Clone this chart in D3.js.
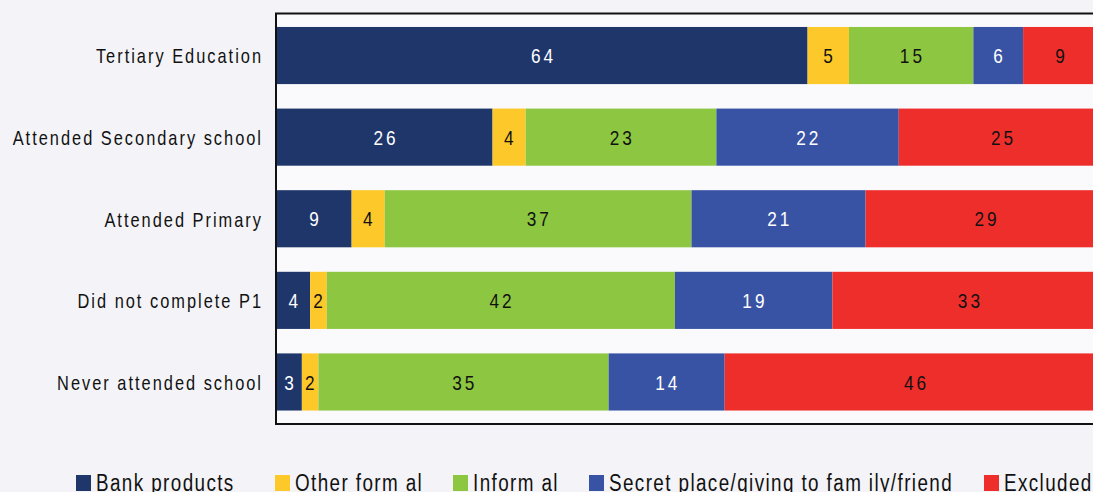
<!DOCTYPE html>
<html>
<head>
<meta charset="utf-8">
<script src="https://cdn.jsdelivr.net/npm/d3@7"></script>
<style>
  html, body { margin: 0; padding: 0; background: #f4f4f8; overflow: hidden; }
  svg { display: block; }
  text { font-family: "Liberation Sans", Arial, sans-serif; }
</style>
</head>
<body>
<svg id="chart" width="1093" height="492"></svg>
<script>
// Education levels (top to bottom)
const categories = [
  "Tertiary Education",
  "Attended Secondary school",
  "Attended Primary",
  "Did not complete P1",
  "Never attended school"
];

// Share of adults (%) per access channel
const seriesNames = ["Bank products", "Other form al", "Inform al", "Secret place/giving to fam ily/friend", "Excluded"];
const bankProducts = [64, 26, 9, 4, 3];
const otherFormal  = [5, 4, 4, 2, 2];
const informal     = [15, 23, 37, 42, 35];
const secretPlace  = [6, 22, 21, 19, 14];
const excluded     = [9, 25, 29, 33, 46];

const colors = ["#1f366b", "#fdc82a", "#8dc641", "#3953a4", "#ee2e2b"];
const labelColors = ["#ffffff", "#111111", "#111111", "#ffffff", "#111111"];

const seriesValues = [bankProducts, otherFormal, informal, secretPlace, excluded];
const keys = ["s0", "s1", "s2", "s3", "s4"];
const table = categories.map((c, i) => {
  const row = { category: c };
  keys.forEach((k, j) => { row[k] = seriesValues[j][i]; });
  return row;
});

// Condensed type: regular sans squeezed horizontally
const SQUEEZE = 0.82;
const squeeze = (px, py) => `translate(${px},${py}) scale(${SQUEEZE},1)`;

const svg = d3.select("#chart");
const plot = { left: 276, top: 13.5, right: 1107, bottom: 424 };

const x = d3.scaleLinear().domain([0, 100]).range([plot.left + 1, 1106]);
const y = d3.scaleBand()
  .domain(categories)
  .range([plot.top, plot.bottom])
  .paddingInner(0.3)
  .paddingOuter(0.165);

// Plot area background
svg.append("rect")
  .attr("x", plot.left).attr("y", plot.top)
  .attr("width", plot.right - plot.left).attr("height", plot.bottom - plot.top)
  .attr("fill", "#fafafc");

const stack = d3.stack().keys(keys)(table);

const layers = svg.append("g").selectAll("g")
  .data(stack)
  .join("g")
  .attr("fill", (d, i) => colors[i]);

layers.selectAll("rect")
  .data(d => d)
  .join("rect")
  .attr("x", d => x(d[0]))
  .attr("y", d => y(d.data.category))
  .attr("width", d => x(d[1]) - x(d[0]))
  .attr("height", y.bandwidth());

// Value labels centred in each segment
const labels = svg.append("g");
stack.forEach((layer, i) => {
  labels.selectAll(null)
    .data(layer)
    .join("text")
    .attr("transform", d => squeeze((x(d[0]) + x(d[1])) / 2 + 1.2, y(d.data.category) + y.bandwidth() / 2))
    .attr("dy", "0.36em")
    .attr("text-anchor", "middle")
    .attr("font-size", 21)
    .attr("letter-spacing", 3 / SQUEEZE)
    .attr("fill", labelColors[i])
    .text(d => d[1] - d[0]);
});

// Frame drawn over the bars
svg.append("rect")
  .attr("x", plot.left).attr("y", plot.top)
  .attr("width", plot.right - plot.left).attr("height", plot.bottom - plot.top)
  .attr("fill", "none")
  .attr("stroke", "#111")
  .attr("stroke-width", 2);

// Category axis
const yAxis = d3.axisLeft(y).tickSize(0).tickPadding(15);
const ag = svg.append("g")
  .attr("transform", `translate(${plot.left},0)`)
  .call(yAxis);
ag.select(".domain").remove();
ag.selectAll("text")
  .attr("x", null)
  .attr("transform", squeeze(-13, 1.5))
  .attr("font-size", 20)
  .attr("letter-spacing", 2 / SQUEEZE)
  .attr("fill", "#111")
  .attr("font-family", null);

// Legend
const legendX = [76, 275, 453, 589, 984];
const legend = svg.append("g");
seriesNames.forEach((name, i) => {
  legend.append("rect")
    .attr("x", legendX[i]).attr("y", 475)
    .attr("width", 15).attr("height", 16)
    .attr("fill", colors[i]);
  legend.append("text")
    .attr("transform", squeeze(legendX[i] + 20, 491))
    .attr("font-size", 23)
    .attr("letter-spacing", 1.4 / SQUEEZE)
    .attr("fill", "#111")
    .text(name);
});
</script>
</body>
</html>
